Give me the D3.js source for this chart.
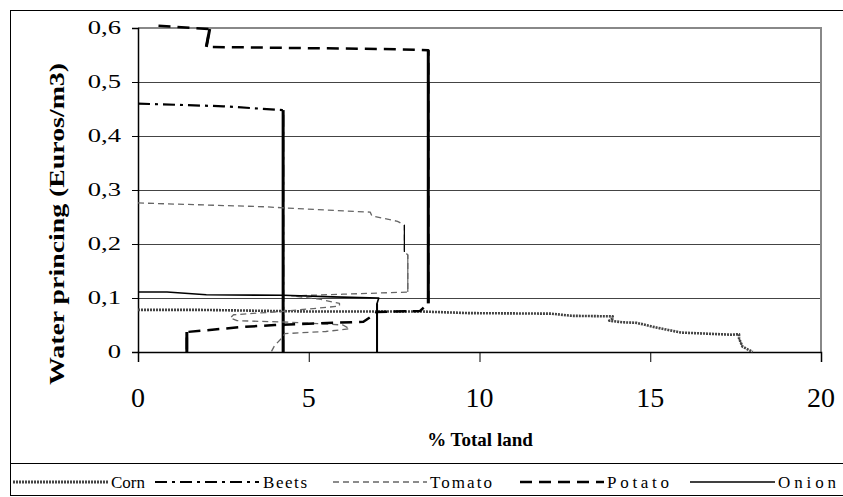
<!DOCTYPE html>
<html>
<head>
<meta charset="utf-8">
<script src="https://cdn.jsdelivr.net/npm/d3@7"></script>
<style>
  body { margin: 0; background: #fff; }
</style>
</head>
<body>
<script>
// tick labels
var xTicks = [0, 5, 10, 15, 20];
var yTicks = [0, 0.1, 0.2, 0.3, 0.4, 0.5, 0.6];

// series: % of total land (x) against water price (y)
var cornLand  = [0, 1.8, 5, 8.3, 9.7, 12.1, 12.7, 13.9, 13.9, 13.8, 14.2, 14.6, 15.2, 15.9, 17.4, 17.6, 17.6, 17.7, 18];
var cornPrice = [0.078, 0.078, 0.075, 0.075, 0.072, 0.071, 0.067, 0.066, 0.062, 0.058, 0.055, 0.054, 0.045, 0.036, 0.032, 0.033, 0.025, 0.01, 0];

var beetsLand  = [0, 2.5, 4.25, 4.25];
var beetsPrice = [0.46, 0.455, 0.448, 0];

var tomatoLand  = [0, 3.7, 4.25, 6.8, 6.85, 7.6, 7.8, 7.8, 7.9, 7.9, 6.0, 4.5, 5.3, 5.9, 5.9, 4.2, 2.8, 2.7, 2.9, 4.5, 6.0, 6.2, 5.5, 4.3, 4.2, 4.0, 3.9];
var tomatoPrice = [0.276, 0.269, 0.267, 0.259, 0.252, 0.242, 0.235, 0.185, 0.18, 0.111, 0.107, 0.104, 0.098, 0.09, 0.085, 0.075, 0.069, 0.063, 0.058, 0.055, 0.05, 0.043, 0.038, 0.034, 0.025, 0.012, 0];

var potatoLand  = [0.6, 2.1, 2.0, 7.2, 8.5, 8.5, 8.26, 7.0, 6.9, 6.6, 4.0, 3.0, 1.43, 1.43];
var potatoPrice = [0.604, 0.598, 0.565, 0.561, 0.559, 0.09, 0.076, 0.074, 0.069, 0.056, 0.05, 0.046, 0.037, 0];

var onionLand  = [0, 0.85, 2.0, 4.25, 5.7, 7.05, 7.0, 7.0];
var onionPrice = [0.111, 0.111, 0.106, 0.105, 0.102, 0.1, 0.09, 0];

var seriesNames = ["Corn", "Beets", "Tomato", "Potato", "Onion"];

var styles = {
  Corn:   { stroke: "#444", width: 2.6, dash: "2,1", vwidth: 1.2 },
  Beets:  { stroke: "#000", width: 2.2, dash: "12,5,3,5", vwidth: 3 },
  Tomato: { stroke: "#666", width: 1.3, dash: "6,4", vwidth: 1.2 },
  Potato: { stroke: "#000", width: 2.5, dash: "12,7", vwidth: 3 },
  Onion:  { stroke: "#000", width: 1.6, dash: null, vwidth: 2 }
};

var seriesData = {
  Corn:   d3.zip(cornLand, cornPrice),
  Beets:  d3.zip(beetsLand, beetsPrice),
  Tomato: d3.zip(tomatoLand, tomatoPrice),
  Potato: d3.zip(potatoLand, potatoPrice),
  Onion:  d3.zip(onionLand, onionPrice)
};

var width = 843, height = 497;
var plot = { left: 138, right: 821, top: 28, bottom: 352 };
var serif = "Liberation Serif, Tinos, Times New Roman, Nimbus Roman, DejaVu Serif, serif";

var svg = d3.select("body").append("svg")
  .attr("width", width)
  .attr("height", height)
  .style("display", "block");

var x = d3.scaleLinear().domain([0, 20]).range([plot.left, plot.right]);
var y = d3.scaleLinear().domain([0, 0.6]).range([plot.bottom, plot.top]);

// outer frame + legend box
svg.append("rect")
  .attr("x", 10.5).attr("y", 10.5)
  .attr("width", 900).attr("height", 485)
  .attr("fill", "none").attr("stroke", "#000").attr("stroke-width", 1);
svg.append("line")
  .attr("x1", 10).attr("x2", 843).attr("y1", 463.5).attr("y2", 463.5)
  .attr("stroke", "#000");

// gridlines
svg.append("g")
  .selectAll("line")
  .data(yTicks.filter(function (d) { return d > 0 && d < 0.6; }))
  .enter().append("line")
  .attr("x1", plot.left).attr("x2", plot.right)
  .attr("y1", function (d) { return Math.round(y(d)) + 0.5; })
  .attr("y2", function (d) { return Math.round(y(d)) + 0.5; })
  .attr("stroke", "#444").attr("stroke-width", 1);

// plot border (top/right grey)
svg.append("path")
  .attr("d", "M" + plot.left + "," + plot.top + "H" + plot.right + "V" + plot.bottom)
  .attr("fill", "none").attr("stroke", "#888").attr("stroke-width", 2);

// axes
var yAxis = d3.axisLeft(y).tickValues(yTicks).tickSize(6).tickFormat("");
var gy = svg.append("g").attr("transform", "translate(" + plot.left + ",0)").call(yAxis);
gy.select(".domain").attr("stroke", "#000").attr("stroke-width", 1.5);

var xAxis = d3.axisBottom(x).tickValues(xTicks).tickSize(10).tickFormat("");
var gx = svg.append("g").attr("transform", "translate(0," + plot.bottom + ")").call(xAxis);
gx.select(".domain").attr("stroke", "#000").attr("stroke-width", 1.5);

// y tick labels (wide glyphs in the original)
svg.append("g")
  .selectAll("text")
  .data(yTicks)
  .enter().append("text")
  .attr("transform", function (d) { return "translate(121," + (y(d) + 6) + ") scale(1.4,1)"; })
  .attr("text-anchor", "end")
  .attr("font-family", serif)
  .attr("font-size", 19)
  .text(function (d) { return d === 0 ? "0" : d3.format(".1f")(d).replace(".", ","); });

// x tick labels
svg.append("g")
  .selectAll("text")
  .data(xTicks)
  .enter().append("text")
  .attr("x", function (d) { return x(d); })
  .attr("y", 407)
  .attr("text-anchor", "middle")
  .attr("font-family", serif)
  .attr("font-size", 28)
  .text(function (d) { return d; });

// axis titles
svg.append("text")
  .attr("x", 480).attr("y", 446)
  .attr("text-anchor", "middle")
  .attr("font-family", serif)
  .attr("font-size", 19).attr("font-weight", "bold")
  .text("% Total land");

svg.append("text")
  .attr("transform", "translate(64,224) rotate(-90)")
  .attr("text-anchor", "middle")
  .attr("font-family", serif)
  .attr("font-size", 20).attr("font-weight", "bold")
  .attr("textLength", 322).attr("lengthAdjust", "spacingAndGlyphs")
  .text("Water princing (Euros/m3)");

// series
var line = d3.line()
  .x(function (d) { return x(d[0]); })
  .y(function (d) { return y(d[1]); });

var gSeries = svg.append("g");
seriesNames.forEach(function (name) {
  var pts = seriesData[name];
  var st = styles[name];
  gSeries.append("path")
    .datum(pts)
    .attr("d", line)
    .attr("fill", "none")
    .attr("stroke", st.stroke)
    .attr("stroke-width", st.width)
    .attr("stroke-dasharray", st.dash)
    .attr("stroke-linejoin", "round");
  // steep (vertical) parts show as solid strokes in the original
  for (var i = 1; i < pts.length; i++) {
    var dx = Math.abs(x(pts[i][0]) - x(pts[i - 1][0]));
    var dy = Math.abs(y(pts[i][1]) - y(pts[i - 1][1]));
    if (dy > 6 && dx < dy * 0.5) {
      gSeries.append("path")
        .datum([pts[i - 1], pts[i]])
        .attr("d", line)
        .attr("fill", "none")
        .attr("stroke", name === "Tomato" && pts[i][1] > 0.15 ? "#000" : st.stroke)
        .attr("stroke-width", st.vwidth);
    }
  }
});

// legend
var legendItems = [
  { name: "Corn",   x1: 13,  x2: 108, tx: 111, len: 34 },
  { name: "Beets",  x1: 155, x2: 259, tx: 263, len: 44 },
  { name: "Tomato", x1: 333, x2: 427, tx: 430, len: 62 },
  { name: "Potato", x1: 520, x2: 604, tx: 607, len: 62 },
  { name: "Onion",  x1: 690, x2: 775, tx: 778, len: 58 }
];
var gLeg = svg.append("g");
legendItems.forEach(function (it) {
  var st = styles[it.name];
  gLeg.append("line")
    .attr("x1", it.x1).attr("x2", it.x2)
    .attr("y1", 482).attr("y2", 482)
    .attr("stroke", st.stroke)
    .attr("stroke-width", it.name === "Corn" ? 3 : st.width)
    .attr("stroke-dasharray", st.dash);
  gLeg.append("text")
    .attr("x", it.tx).attr("y", 488)
    .attr("font-family", serif)
    .attr("font-size", 17)
    .attr("textLength", it.len).attr("lengthAdjust", "spacing")
    .text(it.name);
});
</script>
</body>
</html>
